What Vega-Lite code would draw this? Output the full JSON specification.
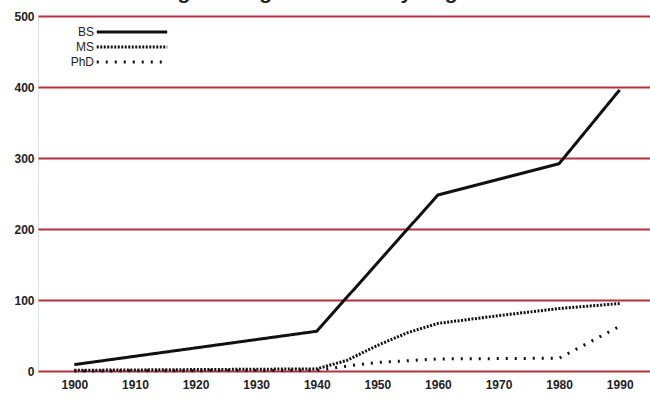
{
  "$schema": "https://vega.github.io/schema/vega-lite/v6.json",
  "width": 612,
  "height": 355,
  "autosize": {"type": "none"},
  "padding": {"left": 38, "top": 16, "right": 0, "bottom": 29},
  "background": "white",
  "title": {
    "text": "Engineering Graduates by Degree",
    "font": "Liberation Sans",
    "fontSize": 21,
    "fontWeight": "bold",
    "anchor": "middle",
    "dx": -24,
    "dy": 14,
    "baseline": "bottom",
    "offset": 0,
    "color": "#222"
  },
  "data": {
    "values": [
      {"year": 1900, "value": 9, "degree": "BS"},
      {"year": 1940, "value": 56, "degree": "BS"},
      {"year": 1960, "value": 248, "degree": "BS"},
      {"year": 1980, "value": 292, "degree": "BS"},
      {"year": 1990, "value": 396, "degree": "BS"},
      {"year": 1900, "value": 1, "degree": "MS"},
      {"year": 1940, "value": 3, "degree": "MS"},
      {"year": 1945, "value": 15, "degree": "MS"},
      {"year": 1950, "value": 36, "degree": "MS"},
      {"year": 1955, "value": 54, "degree": "MS"},
      {"year": 1960, "value": 67, "degree": "MS"},
      {"year": 1970, "value": 78, "degree": "MS"},
      {"year": 1980, "value": 88, "degree": "MS"},
      {"year": 1990, "value": 95, "degree": "MS"},
      {"year": 1900, "value": 0, "degree": "PhD"},
      {"year": 1940, "value": 1, "degree": "PhD"},
      {"year": 1945, "value": 7, "degree": "PhD"},
      {"year": 1950, "value": 12, "degree": "PhD"},
      {"year": 1960, "value": 17, "degree": "PhD"},
      {"year": 1980, "value": 18, "degree": "PhD"},
      {"year": 1990, "value": 63, "degree": "PhD"}
    ]
  },
  "mark": {"type": "line", "strokeWidth": 3, "color": "#111", "strokeCap": "butt"},
  "encoding": {
    "x": {
      "field": "year",
      "type": "quantitative",
      "scale": {"domain": [1894, 1995], "nice": false, "zero": false},
      "axis": {
        "values": [1900, 1910, 1920, 1930, 1940, 1950, 1960, 1970, 1980, 1990],
        "format": "d",
        "grid": false,
        "domain": false,
        "ticks": false,
        "labelFont": "Liberation Sans",
        "labelFontWeight": "bold",
        "labelFontSize": 12,
        "labelColor": "#222",
        "labelPadding": 8,
        "title": null
      }
    },
    "y": {
      "field": "value",
      "type": "quantitative",
      "scale": {"domain": [0, 500], "nice": false},
      "axis": {
        "values": [0, 100, 200, 300, 400, 500],
        "grid": true,
        "gridColor": "#b5303c",
        "gridWidth": 2,
        "gridOpacity": 1,
        "domain": false,
        "ticks": false,
        "labelFont": "Liberation Sans",
        "labelFontWeight": "bold",
        "labelFontSize": 12,
        "labelColor": "#222",
        "labelPadding": 4,
        "title": null
      }
    },
    "strokeDash": {
      "field": "degree",
      "type": "nominal",
      "scale": {"domain": ["BS", "MS", "PhD"], "range": [[1, 0], [2, 1.5], [2, 7]]},
      "legend": {
        "title": null,
        "orient": "none",
        "legendX": 85,
        "legendY": 7,
        "symbolType": "M-4.7,0L4.7,0",
        "symbolSize": 225,
        "symbolStrokeWidth": 3,
        "symbolStrokeColor": "#111",
        "labelAlign": "right",
        "labelOffset": -47,
        "labelFont": "Liberation Sans",
        "labelFontSize": 12,
        "labelColor": "#222",
        "rowPadding": 0
      }
    }
  }
}
